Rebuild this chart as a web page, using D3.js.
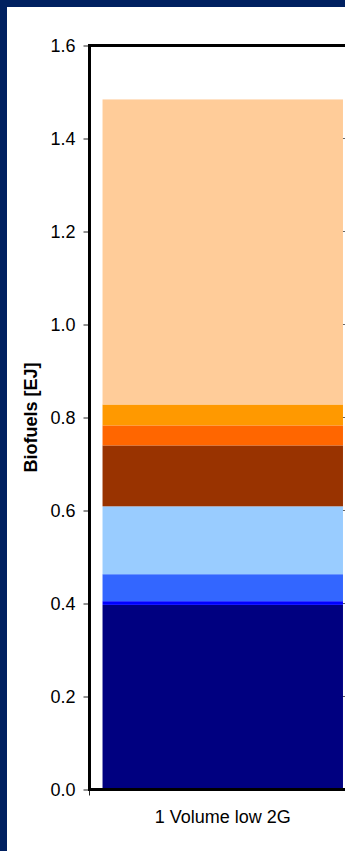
<!DOCTYPE html>
<html>
<head>
<meta charset="utf-8">
<script src="https://cdn.jsdelivr.net/npm/d3@7"></script>
<style>
html,body{margin:0;padding:0;background:#fff;overflow:hidden;}
svg{display:block;}
text{font-family:"Liberation Sans",Arial,sans-serif;}
</style>
</head>
<body>
<script>
// ---- data ----
const categories = ["1 Volume low 2G"];
const seriesNames = ["Series 1","Series 2","Series 3","Series 4","Series 5","Series 6","Series 7","Series 8"];
const seriesValues = [0.397, 0.008, 0.058, 0.146, 0.131, 0.043, 0.045, 0.656];
const seriesColors = ["#000080","#0000FF","#3366FF","#99CCFF","#993300","#FF6600","#FF9900","#FFCC99"];
const yTicks = [0.0,0.2,0.4,0.6,0.8,1.0,1.2,1.4,1.6];
const yLabel = "Biofuels [EJ]";

const W = 345, H = 851;
const svg = d3.select("body").append("svg").attr("width", W).attr("height", H);

// frame
svg.append("rect").attr("x",0).attr("y",0).attr("width",W).attr("height",H).attr("fill","#002060");
svg.append("rect").attr("x",7).attr("y",7).attr("width",W).attr("height",H).attr("fill","#fff");

const plot = {left: 89.5, right: 356, top: 45.5, bottom: 789.5};

const y = d3.scaleLinear().domain([0,1.6]).range([plot.bottom, plot.top]);
const x = d3.scaleBand().domain(categories).range([plot.left, plot.right]).paddingInner(0.0514).paddingOuter(0.0514);

// right-side ticks (behind bars)
svg.append("g").selectAll("line").data(yTicks.slice(1,-1)).join("line")
  .attr("x1", plot.right).attr("x2", plot.right - 18)
  .attr("y1", d => y(d)).attr("y2", d => y(d))
  .attr("stroke","#666").attr("stroke-width",1);

// stacked bars
const rows = categories.map(c => {
  const o = {cat: c};
  seriesNames.forEach((s,i) => o[s] = seriesValues[i]);
  return o;
});
const stack = d3.stack().keys(seriesNames)(rows);
svg.append("g").selectAll("g").data(stack).join("g")
  .attr("fill", (d,i) => seriesColors[i])
  .selectAll("rect").data(d => d).join("rect")
  .attr("x", d => x(d.data.cat))
  .attr("width", x.bandwidth())
  .attr("y", d => y(d[1]))
  .attr("height", d => y(d[0]) - y(d[1]));

// y axis
const yAxis = d3.axisLeft(y).tickValues(yTicks).tickFormat(d3.format(".1f")).tickSize(6).tickPadding(8);
const gy = svg.append("g").attr("transform", `translate(${plot.left},0)`).call(yAxis);
gy.select(".domain").remove();
gy.selectAll(".tick line").attr("stroke","#222");
gy.selectAll(".tick text").attr("font-size","18px").attr("fill","#000")
  .attr("font-family","'Liberation Sans',Arial,sans-serif");

// x axis (category boundary ticks)
const xAxis = d3.axisBottom(x).tickSize(0).tickPadding(21);
const gx = svg.append("g").attr("transform", `translate(0,${plot.bottom})`).call(xAxis);
gx.select(".domain").remove();
gx.selectAll(".tick text").attr("font-size","18px").attr("fill","#000")
  .attr("font-family","'Liberation Sans',Arial,sans-serif");
svg.append("g").selectAll("line").data([plot.left, plot.right]).join("line")
  .attr("x1", d => d).attr("x2", d => d)
  .attr("y1", plot.bottom).attr("y2", plot.bottom + 6)
  .attr("stroke","#222");

// plot border lines
svg.append("rect").attr("x", plot.left).attr("y", plot.top)
  .attr("width", plot.right - plot.left).attr("height", plot.bottom - plot.top)
  .attr("fill","none").attr("stroke","#000").attr("stroke-width",3);

// y label
svg.append("text")
  .attr("transform", `translate(37,${(plot.top+plot.bottom)/2}) rotate(-90)`)
  .attr("text-anchor","middle")
  .attr("font-size","18px").attr("font-weight","bold")
  .text(yLabel);
</script>
</body>
</html>
